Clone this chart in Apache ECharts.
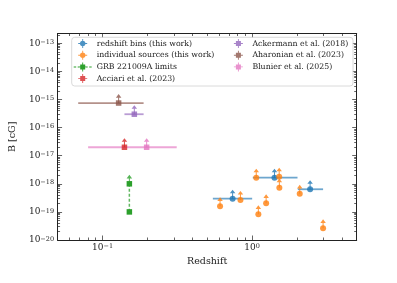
<!DOCTYPE html>
<html>
<head>
<meta charset="utf-8">
<script src="https://cdn.jsdelivr.net/npm/echarts@6/dist/echarts.min.js"></script>
<style>html,body{margin:0;padding:0;background:#fff}#c{width:397px;height:283px}</style>
</head>
<body>
<div id="c"></div>
<script>
// ---- data ----
const binZ   = [0.74, 1.41, 2.44];
const binZlo = [0.546, 1.01, 2.02];
const binZhi = [1.0, 2.01, 2.98];
const binB   = [2.95e-19, 1.65e-18, 6.4e-19];

const srcZ = [0.61, 0.835, 1.065, 1.10, 1.24, 1.516, 1.52, 2.08, 2.98];
const srcB = [1.58e-19, 2.65e-19, 1.65e-18, 8.2e-20, 2.02e-19, 1.79e-18, 7.3e-19, 4.4e-19, 2.6e-20];

const grbZ = [0.151, 0.151];
const grbB = [1e-18, 1e-19];

const acciariZ = [0.14];   const acciariB = [2.0e-17];
const ackermannZ = [0.163]; const ackermannZlo = [0.14]; const ackermannZhi = [0.188]; const ackermannB = [3.0e-16];
const aharonianZ = [0.128]; const aharonianZlo = [0.0687]; const aharonianZhi = [0.188]; const aharonianB = [7.5e-16];
const blunierZ = [0.197]; const blunierZlo = [0.08]; const blunierZhi = [0.313]; const blunierB = [2.0e-17];

const xMin = 0.05, xMax = 5;
const yMin = 1e-20, yMax = 2.24e-13;
const xMajor = [0.1, 1];
const yMajor = [1e-20, 1e-19, 1e-18, 1e-17, 1e-16, 1e-15, 1e-14, 1e-13];

const names = ['redshift bins (this work)', 'individual sources (this work)', 'GRB 221009A limits',
  'Acciari et al. (2023)', 'Ackermann et al. (2018)', 'Aharonian et al. (2023)', 'Blunier et al. (2025)'];
// ---------------------------------------

const C = {blue:'#1f77b4', orange:'#ff7f0e', green:'#2ca02c', red:'#d62728', purple:'#9467bd', brown:'#8c564b', pink:'#e377c2'};
const FONT = 'DejaVu Serif';

function minors(lo, hi) {
  const out = [];
  for (let k = -21; k <= 1; k++) for (let m = 2; m <= 9; m++) {
    const v = m * Math.pow(10, k);
    if (v >= lo * 0.999 && v <= hi * 1.001) out.push(v);
  }
  return out;
}
const xMinor = minors(xMin, xMax);
const yMinor = minors(yMin, yMax);

function pow10Label(v) {
  const e = Math.round(Math.log10(v));
  return '{b|10}{s|' + (e < 0 ? '\u2212' : '') + Math.abs(e) + '}';
}
const rich = {
  b: {fontFamily: FONT, fontSize: 9, color: '#222', verticalAlign: 'bottom', lineHeight: 9, padding: [3, 0, 0, 0]},
  s: {fontFamily: FONT, fontSize: 6.5, color: '#222', verticalAlign: 'top', lineHeight: 7}
};

function logAxis(kind, pos, isMinor, showLine, showLabel) {
  const isX = kind === 'x';
  const ax = {
    type: 'log', logBase: 10,
    position: pos,
    min: isX ? xMin : yMin, max: isX ? xMax : yMax,
    axisLine: {show: showLine, onZero: false, lineStyle: {color: '#222', width: 1}},
    splitLine: {show: false},
    axisTick: {show: true, inside: true, length: isMinor ? 2.5 : 4.5,
      customValues: isMinor ? (isX ? xMinor : yMinor) : (isX ? xMajor : yMajor),
      lineStyle: {color: '#222', width: 0.7}},
    axisLabel: {show: showLabel}
  };
  if (showLabel) {
    ax.axisLabel = {show: true, customValues: isX ? xMajor : yMajor, formatter: pow10Label, rich: rich,
      margin: isX ? 3 : 3.5, fontFamily: FONT};
  }
  return ax;
}

const xAxes = [
  Object.assign(logAxis('x', 'bottom', false, true, true), {name: 'Redshift', nameLocation: 'middle', nameGap: 12.5,
    nameTextStyle: {fontFamily: FONT, fontSize: 9.5, color: '#222'}}),
  logAxis('x', 'bottom', true, false, false),
  logAxis('x', 'top', false, true, false),
  logAxis('x', 'top', true, false, false)
];
const yAxes = [
  Object.assign(logAxis('y', 'left', false, true, true), {name: 'B [cG]', nameLocation: 'middle', nameGap: 36,
    nameTextStyle: {fontFamily: FONT, fontSize: 9.5, color: '#222'}}),
  logAxis('y', 'left', true, false, false),
  logAxis('y', 'right', false, true, false),
  logAxis('y', 'right', true, false, false)
];

const zip = (xs, ys) => xs.map((x, i) => [x, ys[i]]);

// horizontal error bars
const hbars = [];
binZ.forEach((z, i) => hbars.push({value: [binZlo[i], binZhi[i], binB[i]], color: C.blue}));
hbars.push({value: [ackermannZlo[0], ackermannZhi[0], ackermannB[0]], color: C.purple});
hbars.push({value: [aharonianZlo[0], aharonianZhi[0], aharonianB[0]], color: C.brown});
hbars.push({value: [blunierZlo[0], blunierZhi[0], blunierB[0]], color: C.pink});

const ARROW = 'path://M0,0 L3,4 L0.55,4 L0.55,10 L-0.55,10 L-0.55,4 L-3,4 Z';
function arrows(xs, ys, color, name) {
  return {name: name, type: 'scatter', symbol: ARROW, symbolSize: [5.5, 9], symbolOffset: [0, '-50%'],
    itemStyle: {color: color}, data: zip(xs, ys), z: 2, silent: true, legendHoverLink: false};
}

const ICON_DOT = 'path://M-9,-4.5 M9,4.5 M0,-2.7 A2.7,2.7 0 1,1 0,2.7 A2.7,2.7 0 1,1 0,-2.7 Z M-4.5,-0.45 L4.5,-0.45 L4.5,0.45 L-4.5,0.45 Z M-0.45,-4.5 L0.45,-4.5 L0.45,4.5 L-0.45,4.5 Z';
const ICON_SQ = 'path://M-2.5,-2.5 L2.5,-2.5 L2.5,2.5 L-2.5,2.5 Z M-4.5,-0.45 L4.5,-0.45 L4.5,0.45 L-4.5,0.45 Z M-0.45,-4.5 L0.45,-4.5 L0.45,4.5 L-0.45,4.5 Z';
const ICON_GRB = 'path://M-9,-0.5 L-6.5,-0.5 L-6.5,0.5 L-9,0.5 Z M-5,-0.5 L-3,-0.5 L-3,0.5 L-5,0.5 Z M3,-0.5 L5,-0.5 L5,0.5 L3,0.5 Z M6.5,-0.5 L9,-0.5 L9,0.5 L6.5,0.5 Z M-2.5,-2.5 L2.5,-2.5 L2.5,2.5 L-2.5,2.5 Z M-4.5,-0.45 L4.5,-0.45 L4.5,0.45 L-4.5,0.45 Z M-0.45,-4.5 L0.45,-4.5 L0.45,4.5 L-0.45,4.5 Z';
const icons = [ICON_DOT, ICON_DOT, ICON_GRB, ICON_SQ, ICON_SQ, ICON_SQ, ICON_SQ];
const textW = [130, 130, 130, 130, 97, 97, 97];

const option = {
  animation: false,
  backgroundColor: '#fff',
  grid: {left: 49.5, right: 40.3, top: 33.5, bottom: 43, containLabel: false},
  xAxis: xAxes,
  yAxis: yAxes,
  legend: {
    orient: 'vertical', left: 71.7, top: 37.3, height: 45,
    padding: [1.7, 3.6, 2.9, 2], itemGap: 2.7, itemWidth: 18, itemHeight: 9,
    borderColor: '#d0d0d0', borderWidth: 0.8, borderRadius: 3, backgroundColor: 'rgba(255,255,255,0.85)',
    textStyle: {fontFamily: FONT, fontSize: 7.8, color: '#222', lineHeight: 9},
    data: names.map((n, i) => ({name: n, icon: icons[i], textStyle: {width: textW[i]}})),
    selectedMode: false
  },
  series: [
    {name: 'hbars', type: 'custom', z: 1, silent: true,
      renderItem: function (params, api) {
        const p1 = api.coord([api.value(0), api.value(2)]);
        const p2 = api.coord([api.value(1), api.value(2)]);
        const d = hbars[params.dataIndex];
        return {type: 'line', shape: {x1: p1[0], y1: p1[1], x2: p2[0], y2: p2[1]},
          style: {stroke: d.color, lineWidth: 1.8, opacity: 0.65}};
      },
      encode: {x: [0, 1], y: 2},
      data: hbars.map(h => h.value)
    },
    arrows(binZ, binB, C.blue, 'a1'),
    arrows(srcZ, srcB, C.orange, 'a2'),
    arrows([grbZ[0]], [grbB[0]], C.green, 'a3'),
    arrows(acciariZ, acciariB, C.red, 'a4'),
    arrows(ackermannZ, ackermannB, C.purple, 'a5'),
    arrows(aharonianZ, aharonianB, C.brown, 'a6'),
    arrows(blunierZ, blunierB, C.pink, 'a7'),
    {name: names[0], type: 'scatter', symbol: 'circle', symbolSize: 6, itemStyle: {color: C.blue}, data: zip(binZ, binB), z: 3},
    {name: names[1], type: 'scatter', symbol: 'circle', symbolSize: 6, itemStyle: {color: C.orange}, data: zip(srcZ, srcB), z: 3},
    {name: names[2], type: 'line', symbol: 'rect', symbolSize: 5.5, showSymbol: true, itemStyle: {color: C.green},
      lineStyle: {color: C.green, width: 1.5, type: [3, 2], opacity: 0.75}, data: zip(grbZ, grbB), z: 3},
    {name: names[3], type: 'scatter', symbol: 'rect', symbolSize: 5.5, itemStyle: {color: C.red}, data: zip(acciariZ, acciariB), z: 3},
    {name: names[4], type: 'scatter', symbol: 'rect', symbolSize: 5.5, itemStyle: {color: C.purple}, data: zip(ackermannZ, ackermannB), z: 3},
    {name: names[5], type: 'scatter', symbol: 'rect', symbolSize: 5.5, itemStyle: {color: C.brown}, data: zip(aharonianZ, aharonianB), z: 3},
    {name: names[6], type: 'scatter', symbol: 'rect', symbolSize: 5.5, itemStyle: {color: C.pink}, data: zip(blunierZ, blunierB), z: 3}
  ]
};

const chart = echarts.init(document.getElementById('c'), null, {renderer: 'canvas'});
chart.setOption(option);
</script>
</body>
</html>
